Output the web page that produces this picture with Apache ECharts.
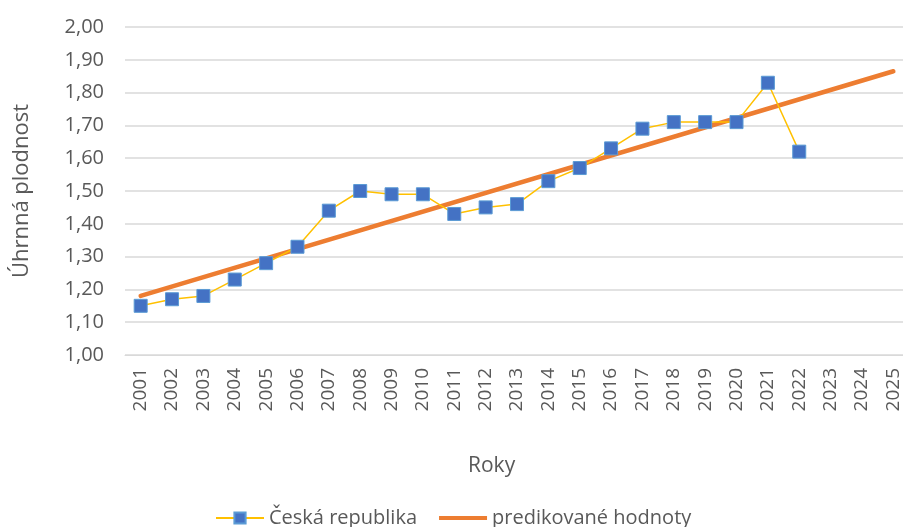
<!DOCTYPE html>
<html>
<head>
<meta charset="utf-8">
<script src="https://cdn.jsdelivr.net/npm/echarts@6/dist/echarts.min.js"></script>
<style>
  html, body { margin: 0; padding: 0; background: #fff; }
  #chart { width: 903px; height: 527px; }
</style>
</head>
<body>
<div id="chart"></div>
<script>
// roky na ose x
const years = ['2001', '2002', '2003', '2004', '2005', '2006', '2007', '2008', '2009', '2010',
  '2011', '2012', '2013', '2014', '2015', '2016', '2017', '2018', '2019', '2020',
  '2021', '2022', '2023', '2024', '2025']
// úhrnná plodnost ČR
const fertility = [1.15, 1.17, 1.18, 1.23, 1.28, 1.33, 1.44, 1.50, 1.49, 1.49,
  1.43, 1.45, 1.46, 1.53, 1.57, 1.63, 1.69, 1.71, 1.71, 1.71,
  1.83, 1.62]
// trend - jen krajní body, čára se spojí
const trend = [1.18, null, null, null, null, null, null, null, null, null,
  null, null, null, null, null, null, null, null, null, null,
  null, null, null, null, 1.865]

const textColor = '#595959'
const font = 'Open Sans'

const chart = echarts.init(document.getElementById('chart'))
chart.setOption({
  animation: false,
  textStyle: { fontFamily: font, color: textColor },
  title: {
    text: 'Roky',
    left: 463,
    top: 451,
    textStyle: { fontFamily: font, fontSize: 21, fontWeight: 'normal', color: textColor },
  },
  grid: {
    left: 125,
    top: 27,
    width: 784,
    height: 328,
    outerBoundsMode: 'none',
    containLabel: false,
  },
  legend: {
    left: 210,
    top: 503,
    itemWidth: 48,
    itemHeight: 14,
    itemGap: 22,
    textStyle: { fontFamily: font, fontSize: 20, color: textColor },
    data: [
      'Česká republika',
      { name: 'predikované hodnoty', icon: 'path://M0,0 L48,0 L48,4 L0,4 Z' },
    ],
  },
  xAxis: {
    type: 'category',
    data: years,
    boundaryGap: true,
    axisLine: { lineStyle: { color: '#D9D9D9', width: 1 } },
    axisTick: { show: false },
    axisLabel: {
      rotate: 90,
      margin: 13,
      fontSize: 19,
      color: textColor,
      fontFamily: font,
      interval: 0,
    },
  },
  yAxis: {
    type: 'value',
    min: 1,
    max: 2,
    interval: 0.1,
    name: 'Úhrnná plodnost',
    nameLocation: 'middle',
    nameGap: 92,
    nameRotate: 90,
    nameTextStyle: { fontFamily: font, fontSize: 22, color: textColor },
    axisLine: { show: false },
    axisTick: { show: false },
    splitLine: { lineStyle: { color: '#D9D9D9', width: 1.5 } },
    axisLabel: {
      margin: 21,
      fontSize: 20,
      color: textColor,
      fontFamily: font,
      formatter: v => v.toFixed(2).replace('.', ','),
    },
  },
  series: [
    {
      name: 'Česká republika',
      type: 'line',
      data: fertility,
      symbol: 'rect',
      symbolSize: 13,
      lineStyle: { color: '#FFC000', width: 1.5 },
      itemStyle: { color: '#4472C4', borderColor: '#5B9BD5', borderWidth: 1 },
      z: 3,
    },
    {
      name: 'predikované hodnoty',
      type: 'line',
      data: trend,
      connectNulls: true,
      symbol: 'none',
      showSymbol: false,
      lineStyle: { color: '#ED7D31', width: 4.5, cap: 'round' },
      itemStyle: { color: '#ED7D31' },
      z: 2,
    },
  ],
})
</script>
</body>
</html>
